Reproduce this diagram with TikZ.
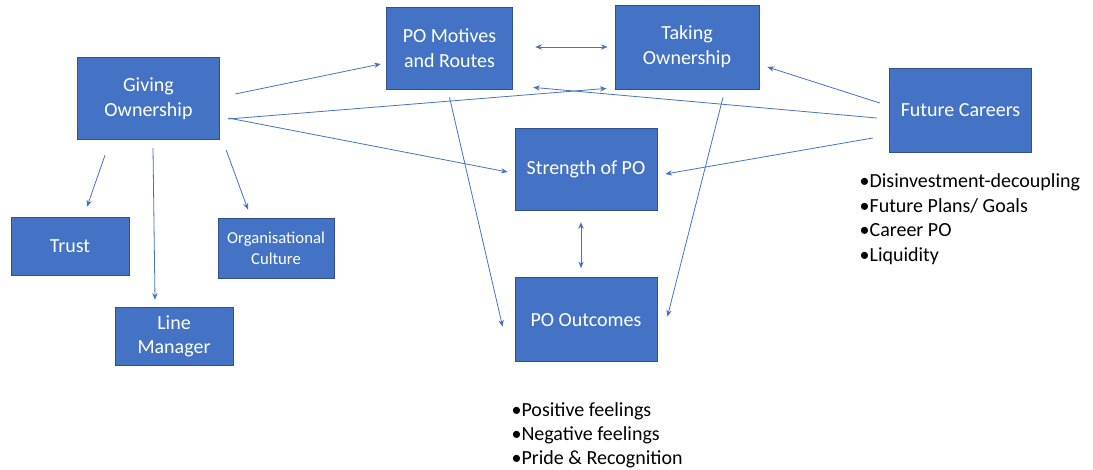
\documentclass[tikz,border=0pt]{standalone}
\usepackage{fontspec}
\setmainfont{Carlito}
\usepackage{xcolor}
\usepackage{tikz}
\usetikzlibrary{arrows.meta,positioning,calc}
\definecolor{boxblue}{HTML}{4472C4}
\definecolor{boxedge}{HTML}{2F528F}
\tikzset{
  blk/.style={rectangle, draw=boxedge, fill=boxblue, text=white, line width=0.6pt,
              align=center, font=\fontsize{15}{18.5}\selectfont, inner sep=2pt},
  lst/.style={align=left, font=\fontsize{15}{18.3}\selectfont, inner sep=0pt},
  arr/.style={-{Stealth[length=5pt,width=4pt]}, draw=boxblue, line width=0.6pt},
  darr/.style={{Stealth[length=5pt,width=4pt]}-{Stealth[length=5pt,width=4pt]}, draw=boxblue, line width=0.6pt},
}

\begin{document}
\begin{tikzpicture}[x=0.75pt, y=-0.75pt]
\useasboundingbox (0,0) rectangle (1093,470);

% Giving ownership and its parts
\node[blk, minimum width=107pt, minimum height=62pt] (giving) at (148.5,98.5) {Giving\\Ownership};
\node[blk, minimum width=88.5pt, minimum height=44pt] (trust) at (70,246.5) {Trust};
\node[blk, minimum width=87pt, minimum height=45pt, font=\fontsize{12.5}{15.8}\selectfont] (culture) at (276,248) {Organisational\\Culture};
\node[blk, minimum width=88.5pt, minimum height=44pt] (manager) at (174,336.5) {Line\\Manager};

% Top row
\node[blk, minimum width=95pt, minimum height=61.5pt] (motives) at (449.5,48) {PO Motives\\and Routes};
\node[blk, minimum width=108pt, minimum height=63pt] (taking) at (687,47) {Taking\\Ownership};

% Strength and outcomes
\node[blk, minimum width=106.5pt, minimum height=62pt] (strength) at (586,169.5) {Strength of PO};
\node[blk, minimum width=106.5pt, minimum height=63pt, below=49.5pt of strength] (outcomes) {PO Outcomes};
\node[lst, below=30pt of outcomes, xshift=8.3pt] (outlist) {•Positive feelings\\•Negative feelings\\•Pride \& Recognition};

% Future careers
\node[blk, minimum width=107pt, minimum height=63pt] (future) at (960.5,110) {Future Careers};
\node[lst, below=16pt of future, xshift=7pt] (futlist) {•Disinvestment-decoupling\\•Future Plans/ Goals\\•Career PO\\•Liquidity};

% From giving ownership
\draw[arr] ($(giving.east)+(15,-4.5)$) -- ($(motives.west)+(-5,16)$);
\draw[arr] ($(giving.east)+(8,20.5)$) -- ($(taking.south west)+(-8,-1)$);
\draw[arr] ($(giving.east)+(8,19.5)$) -- ($(strength.west)+(-7,2.5)$);
\draw[arr] ($(giving.south)+(-43.5,15)$) -- ($(trust.north)+(17,-10)$);
\draw[arr] ($(giving.south)+(4.5,8)$) -- ($(manager.north)+(-19,-7)$);
\draw[arr] ($(giving.south east)+(6,10)$) -- ($(culture.north)+(-28,-8)$);

% Motives and taking ownership
\draw[darr] ($(motives.east)+(22,-1)$) -- ($(taking.west)+(-7,0)$);
\draw[arr] ($(motives.south)+(0,8)$) -- ($(outcomes.west)+(-12,7)$);
\draw[arr] ($(taking.south)+(36,8)$) -- ($(outcomes.east)+(10,-3)$);

% From future careers
\draw[arr] ($(future.west)+(-9,-7)$) -- ($(taking.east)+(8,20)$);
\draw[arr] ($(future.west)+(-12,8)$) -- ($(motives.south east)+(20,-2)$);
\draw[arr] ($(future.west)+(-16,28)$) -- ($(strength.east)+(8,4.5)$);

% Strength and outcomes
\draw[darr] ($(strength.south)+(-5,11)$) -- ($(outcomes.north)+(-5,-9)$);

\end{tikzpicture}
\end{document}
